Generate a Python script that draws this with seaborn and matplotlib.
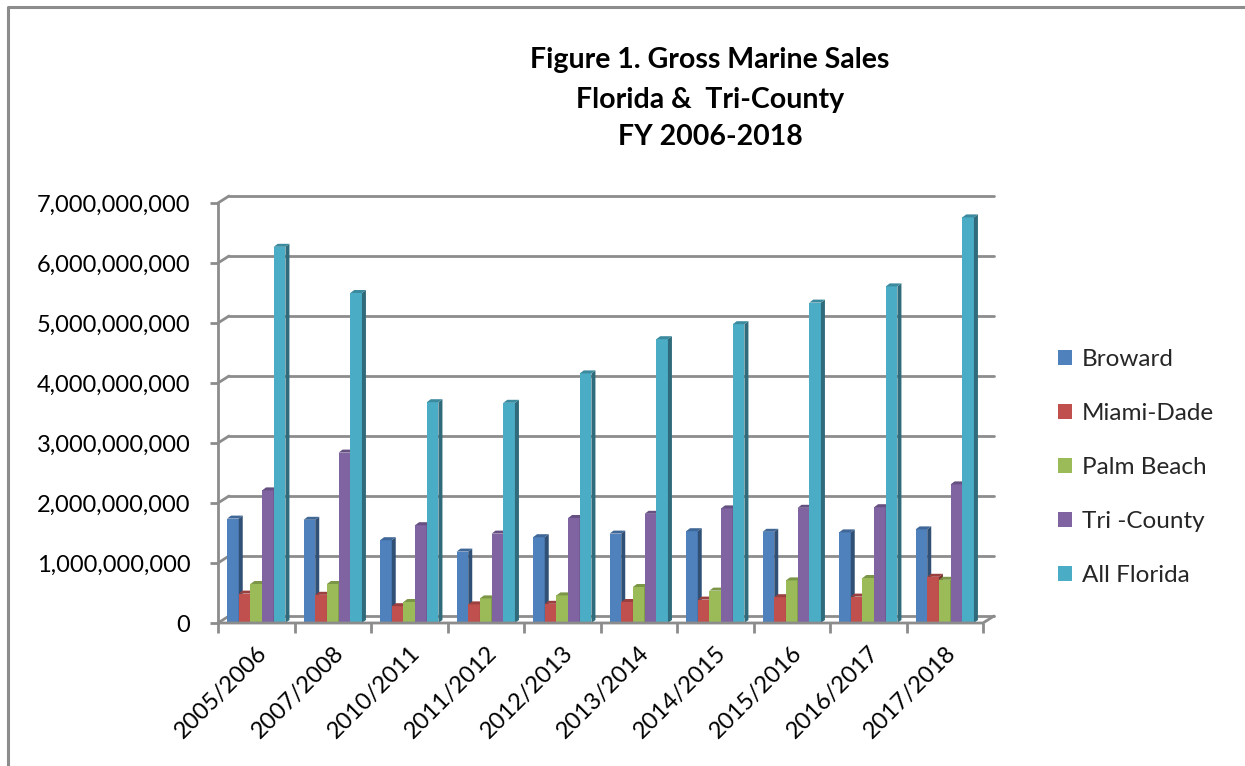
import numpy as np
import pandas as pd
import matplotlib
matplotlib.use("Agg")
import matplotlib.pyplot as plt
import seaborn as sns
from matplotlib.patches import Polygon
from matplotlib.lines import Line2D
from matplotlib.colors import to_rgb
from matplotlib.ticker import FuncFormatter, FixedLocator

years = ["2005/2006", "2007/2008", "2010/2011", "2011/2012", "2012/2013",
         "2013/2014", "2014/2015", "2015/2016", "2016/2017", "2017/2018"]
broward = [1.74e9, 1.72e9, 1.38e9, 1.19e9, 1.43e9, 1.49e9, 1.53e9, 1.52e9, 1.51e9, 1.56e9]
miami_dade = [0.49e9, 0.47e9, 0.28e9, 0.31e9, 0.32e9, 0.35e9, 0.39e9, 0.43e9, 0.44e9, 0.77e9]
palm_beach = [0.65e9, 0.65e9, 0.35e9, 0.41e9, 0.46e9, 0.60e9, 0.54e9, 0.71e9, 0.75e9, 0.72e9]
tri_county = [2.21e9, 2.84e9, 1.63e9, 1.49e9, 1.75e9, 1.82e9, 1.91e9, 1.92e9, 1.93e9, 2.31e9]
all_florida = [6.27e9, 5.50e9, 3.68e9, 3.67e9, 4.16e9, 4.73e9, 4.98e9, 5.34e9, 5.61e9, 6.76e9]
series_names = ["Broward", "Miami-Dade", "Palm Beach", "Tri -County", "All Florida"]
colors = ["#4F81BD", "#C0504D", "#9BBB59", "#8064A2", "#4BACC6"]
title_lines = ["Figure 1. Gross Marine Sales", "Florida &  Tri-County", "FY 2006-2018"]

values = [broward, miami_dade, palm_beach, tri_county, all_florida]
df = pd.DataFrame({
    "Year": np.tile(years, len(series_names)),
    "Series": np.repeat(series_names, len(years)),
    "Sales": np.concatenate(values),
})

sns.set_theme(style="white")
plt.rcParams["font.family"] = ["Lato", "DejaVu Sans"]

W, H = 1245, 766
fig = plt.figure(figsize=(W / 100, H / 100), dpi=100)
ax_l, ax_r, ax_t, ax_b = 218, 983, 203, 623
ax = fig.add_axes([ax_l / W, 1 - ax_b / H, (ax_r - ax_l) / W, (ax_b - ax_t) / H])

sns.barplot(data=df, x="Year", y="Sales", hue="Series", order=years,
            hue_order=series_names, palette=colors, width=0.763,
            saturation=1, ax=ax, legend=True, edgecolor="none", linewidth=0)

ax.set_ylim(0, 7e9)
ax.set_xlim(-0.5, len(years) - 0.5)
ax.set_xlabel("")
ax.set_ylabel("")

grid_c = "#8c8c8c"
for s in ["top", "right"]:
    ax.spines[s].set_visible(False)
ax.spines["bottom"].set_visible(False)
ax.spines["left"].set_color(grid_c)
ax.spines["left"].set_linewidth(2)

yt = np.arange(0, 7.01e9, 1e9)
ax.yaxis.set_major_locator(FixedLocator(yt))
ax.yaxis.set_major_formatter(FuncFormatter(lambda v, p: f"{v:,.0f}"))
ax.tick_params(axis="y", length=6, width=2, color=grid_c, labelsize=17, pad=14,
               left=True, labelcolor="black")
ax.set_xticks(range(len(years)))
ax.set_xticklabels(years, rotation=45, ha="right", rotation_mode="anchor")
ax.tick_params(axis="x", which="major", length=0, labelsize=17, pad=14, labelcolor="black")
ax.set_xticks(np.arange(-0.5, len(years), 1.0), minor=True)
ax.tick_params(axis="x", which="minor", length=7, width=2, color=grid_c, bottom=True)

# 3D back wall / floor
axw, axh = ax_r - ax_l, ax_b - ax_t
dx, dy = 11 / axw, 7 / axh
for v in yt:
    f = v / 7e9
    ax.add_line(Line2D([dx, 1 + dx], [f + dy, f + dy], transform=ax.transAxes,
                       color=grid_c, lw=2, clip_on=False, zorder=0.5))
    ax.add_line(Line2D([0, dx], [f, f + dy], transform=ax.transAxes,
                       color=grid_c, lw=2, clip_on=False, zorder=0.5))
ax.add_line(Line2D([0, 1, 1 + dx], [0, 0, dy], transform=ax.transAxes,
                   color=grid_c, lw=2, clip_on=False, zorder=5))

# 3D faces for bars
fig.canvas.draw()
inv = ax.transData.inverted()
px_dx, px_dy = 4, 3
for k, cont in enumerate(ax.containers):
    base = np.array(to_rgb(colors[k]))
    side_c = base * 0.62
    top_c = base * 0.8
    for p in cont.patches:
        z = 2 + k * 0.1
        p.set_zorder(z)
        x0, y0 = p.get_x(), p.get_y()
        x1, y1 = x0 + p.get_width(), y0 + p.get_height()
        d00 = ax.transData.transform((x0, y1))
        d10 = ax.transData.transform((x1, y1))
        d1b = ax.transData.transform((x1, y0))
        side = [d10, d1b, d1b + [px_dx, px_dy], d10 + [px_dx, px_dy]]
        top = [d00, d10, d10 + [px_dx, px_dy], d00 + [px_dx, px_dy]]
        ax.add_patch(Polygon(inv.transform(side), closed=True, facecolor=side_c,
                             edgecolor="none", zorder=z + 0.01, clip_on=False))
        ax.add_patch(Polygon(inv.transform(top), closed=True, facecolor=top_c,
                             edgecolor="none", zorder=z + 0.01, clip_on=False))

# Legend
handles, labels = ax.get_legend_handles_labels()
if ax.get_legend() is not None:
    ax.get_legend().remove()
fig.legend(handles[:5], labels[:5], loc="upper left",
           bbox_to_anchor=(1036 / W, 1 - 327 / H), frameon=False, fontsize=17.5,
           handlelength=0.6, handleheight=0.6, handletextpad=0.4, labelspacing=1.36)

# Title
for i, (line, yc) in enumerate(zip(title_lines, [60, 100, 137])):
    fig.text(710 / W, 1 - yc / H, line, ha="center", va="center",
             fontsize=20.5, fontweight="bold", color="black")

# chart border
fig.add_artist(Line2D([8 / W, 8 / W, 1.0], [0, 1 - 7 / H, 1 - 7 / H],
                      transform=fig.transFigure, color="#8c8c8c", lw=2.2))

fig.savefig("out.png", dpi=100)
